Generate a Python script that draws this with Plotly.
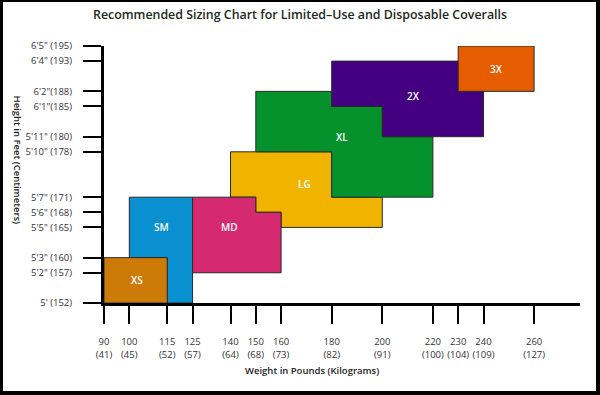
import plotly.graph_objects as go

# ---------------- data ----------------
weight_lb = [90, 100, 115, 125, 140, 150, 160, 180, 200, 220, 230, 240, 260]
weight_kg = [41, 45, 52, 57, 64, 68, 73, 82, 91, 100, 104, 109, 127]

height_in = [60, 62, 63, 65, 66, 67, 70, 71, 73, 74, 76, 77]
height_labels = ["5' (152)", "5'2\" (157)", "5'3\" (160)", "5'5\" (165)", "5'6\" (168)",
                 "5'7\" (171)", "5'10\" (178)", "5'11\" (180)", "6'1\"(185)", "6'2\"(188)",
                 "6'4\" (193)", "6'5\" (195)"]

sizes = ["SM", "XS", "LG", "MD", "XL", "2X", "3X"]
# visible outline of each size region (weight in lb, height in inches)
sm_w = [115, 125, 125, 100, 100, 115]
sm_h = [60, 60, 67, 67, 63, 63]
xs_w = [90, 115, 115, 90]
xs_h = [60, 60, 63, 63]
lg_w = [160, 200, 200, 180, 180, 140, 140, 150, 150, 160]
lg_h = [65, 65, 67, 67, 70, 70, 67, 67, 66, 66]
md_w = [125, 160, 160, 150, 150, 125]
md_h = [62, 62, 66, 66, 67, 67]
xl_w = [180, 220, 220, 200, 200, 180, 180, 150, 150, 180]
xl_h = [67, 67, 71, 71, 73, 73, 74, 74, 70, 70]
x2_w = [200, 240, 240, 230, 230, 180, 180, 200]
x2_h = [71, 71, 74, 74, 76, 76, 73, 73]
x3_w = [230, 260, 260, 230]
x3_h = [74, 74, 77, 77]

outlines_w = [sm_w, xs_w, lg_w, md_w, xl_w, x2_w, x3_w]
outlines_h = [sm_h, xs_h, lg_h, md_h, xl_h, x2_h, x3_h]
colors = ["#0a8fd0", "#cc7a08", "#f0b400", "#d62a70", "#05922c", "#430080", "#e65c00"]

label_w = [112.9, 103, 169.4, 139.8, 184, 212.5, 245]
label_h = [65.0, 61.5, 67.9, 65.0, 71.0, 73.7, 75.5]

# ---------------- figure ----------------
W, H = 600, 395
L, R, T, B = 104, 20, 46, 92
X_RANGE = [90, 90 + (W - L - R) / 2.53]
Y_RANGE = [60, 77]

FONT = "Open Sans"

fig = go.Figure()
for name, ws, hs, c in zip(sizes, outlines_w, outlines_h, colors):
    fig.add_trace(go.Scatter(
        x=ws + [ws[0]], y=hs + [hs[0]], mode="lines", fill="toself",
        fillcolor=c, line=dict(color="#2a2a2a", width=1),
        name=name, hoverinfo="name", showlegend=False))

for name, xw, yh in zip(sizes, label_w, label_h):
    fig.add_annotation(x=xw, y=yh, xref="x", yref="y", text=name, showarrow=False,
                       font=dict(family=FONT, size=10, color="white", weight=600))

pw = W - L - R
ph = H - T - B


def px2x(px):
    return (px - L) / pw


def py2y(py):
    return (H - B - py) / ph


# axis titles
fig.add_annotation(x=px2x(9), y=py2y(160), xref="paper", yref="paper",
                   text="Height in Feet (Centimeters)", textangle=90, showarrow=False,
                   font=dict(family=FONT, size=9.5, color="#222", weight=600))
fig.add_annotation(x=px2x(312), y=py2y(379), xref="paper", yref="paper",
                   text="Weight in Pounds (Kilograms)", showarrow=False,
                   font=dict(family=FONT, size=9.5, color="#222", weight=600))

# black frame around the picture
frame = [(0, 0, 3, H), (0, 0, W, 2), (596, 0, W, H), (0, 391, W, H)]
for x0, y0, x1, y1 in frame:
    fig.add_shape(type="rect", xref="paper", yref="paper",
                  x0=px2x(x0), x1=px2x(x1), y0=py2y(y1), y1=py2y(y0),
                  fillcolor="black", line=dict(width=0), layer="above")

fig.update_layout(
    width=W, height=H,
    margin=dict(l=L, r=R, t=T, b=B, autoexpand=False),
    paper_bgcolor="white", plot_bgcolor="white",
    title=dict(text="Recommended Sizing Chart for Limited\u2013Use and Disposable Coveralls",
               x=0.5, xref="container", y=1 - 15 / H, yref="container",
               xanchor="center", yanchor="middle",
               font=dict(family=FONT, size=12.4, color="#1c2a20", weight=600)),
    showlegend=False,
)

fig.update_xaxes(
    range=X_RANGE, tickvals=weight_lb, automargin=False,
    ticktext=[f"{w}<br>({k})" for w, k in zip(weight_lb, weight_kg)],
    ticks="outside", ticklen=18, tickwidth=2, tickcolor="black",
    showline=True, linewidth=3, linecolor="black", showgrid=False, zeroline=False,
    tickfont=dict(family=FONT, size=9.5, color="#333"), ticklabelstandoff=10,
)
fig.update_yaxes(
    range=Y_RANGE, tickvals=height_in, ticktext=height_labels, automargin=False,
    ticks="outside", ticklen=18, tickwidth=2, tickcolor="black",
    showline=True, linewidth=3, linecolor="black", showgrid=False, zeroline=False,
    tickfont=dict(family=FONT, size=9.5, color="#333"), ticklabelstandoff=9,
)

fig.write_html("out.html", config={"displayModeBar": False},
               post_script="document.body.style.margin='0';document.body.style.padding='0';")
